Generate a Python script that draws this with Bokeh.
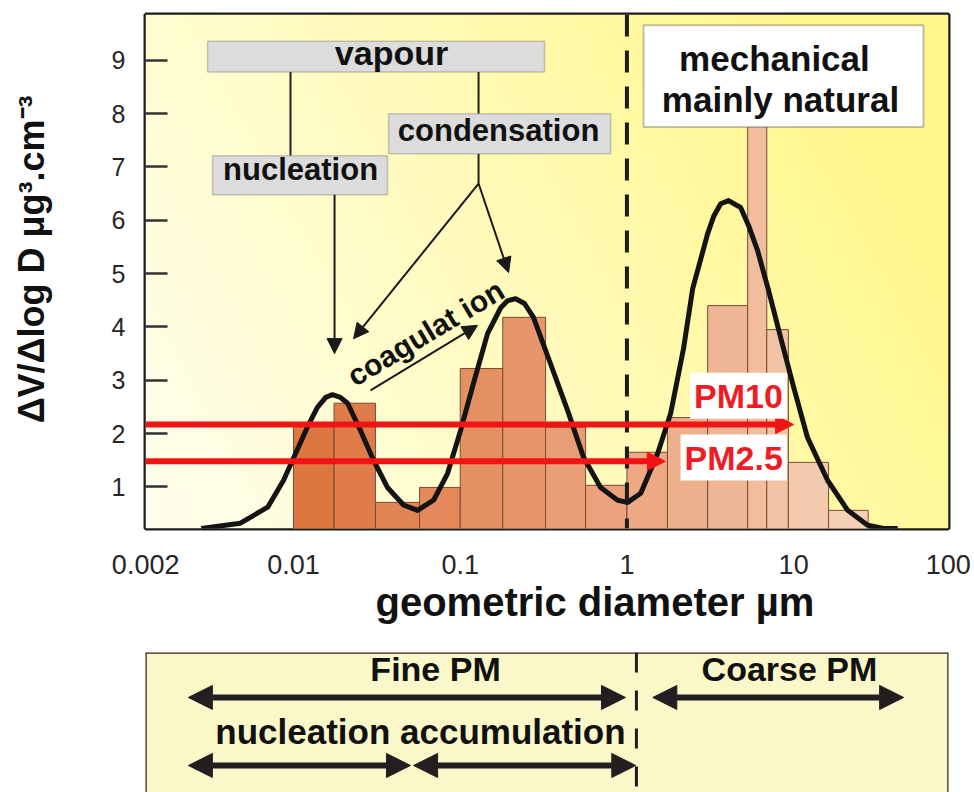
import numpy as np
from bokeh.embed import file_html
from bokeh.layouts import column, row
from bokeh.models import Arrow, BoxAnnotation, FixedTicker, Label, NormalHead, Range1d, Span, Title
from bokeh.plotting import figure
from bokeh.resources import INLINE

FONT = "Liberation Sans"
INK = "#1c1c1c"

# Volume size distribution: histogram bins (geometric diameter, µm) and ΔV/ΔlogD per bin
bin_edges = [0.01, 0.0175, 0.031, 0.057, 0.1, 0.18, 0.325, 0.565, 1.0,
             1.75, 3.05, 5.3, 6.9, 9.3, 16.2, 28.0]
bin_heights = [2.15, 2.57, 0.71, 0.99, 3.22, 4.18, 2.12, 1.03,
               1.65, 2.30, 4.40, 8.0, 3.95, 1.46, 0.56]

# Trimodal distribution curve (nucleation, accumulation, coarse modes)
curve_d = [0.0028, 0.0048, 0.0070, 0.0087, 0.0103, 0.0121, 0.0139, 0.0156, 0.0171,
           0.0191, 0.0211, 0.0252, 0.0302, 0.0366, 0.0457, 0.0554, 0.0692, 0.0839,
           0.1005, 0.120, 0.146, 0.175, 0.192, 0.215, 0.243, 0.275, 0.348, 0.441,
           0.550, 0.695, 0.879, 1.01, 1.21, 1.53, 1.83, 2.19, 2.48, 3.05, 3.31,
           3.65, 4.07, 4.81, 5.37, 6.08, 7.08, 8.36, 10.0, 12.1, 16.0, 21.1, 27.8,
           34.7, 42.1]
curve_v = [0.22, 0.32, 0.62, 1.12, 1.63, 2.12, 2.49, 2.68, 2.73,
           2.68, 2.57, 2.06, 1.50, 0.99, 0.66, 0.56, 0.75, 1.25,
           2.06, 2.94, 3.88, 4.36, 4.49, 4.53, 4.44, 4.18, 3.31, 2.43,
           1.55, 0.99, 0.75, 0.71, 0.88, 1.63, 2.38, 3.61, 4.72, 5.75, 6.07,
           6.31, 6.37, 6.24, 5.90, 5.43, 4.68, 3.80, 2.87, 1.93, 1.12, 0.56, 0.28,
           0.22, 0.22]

# Axes
x_lo, x_hi = 10 ** -2.888, 10 ** 1.929
y_lo, y_hi = 0.22, 9.86
x_tick_values = [x_lo * 1.002, 0.01, 0.1, 1, 10, x_hi * 0.998]
x_tick_labels = ["0.002", "0.01", "0.1", "1", "10", "100"]
y_tick_values = [1, 2, 3, 4, 5, 6, 7, 8, 9]
y_title = "ΔV/Δlog D μg³.cm⁻³"
x_title = "geometric diameter µm"

# PM size cuts drawn as arrows
pm_names = ["PM10", "PM2.5"]
pm_levels = [2.17, 1.48]
pm_cuts = [10.0, 1.7]

# Fine / coarse size ranges (µm)
range_names = ["Fine PM", "Coarse PM", "nucleation", "accumulation"]
range_from = [0.00234, 1.43, 0.00234, 0.0525]
range_to = [0.98, 45.7, 0.0503, 1.13]
fine_coarse_split = 1.14

p = figure(width=914, height=636, x_axis_type="log",
           x_range=Range1d(x_lo, x_hi), y_range=Range1d(y_lo, y_hi),
           output_backend="svg", toolbar_location=None,
           min_border_left=85, min_border_right=26, min_border_top=14, min_border_bottom=108)
p.grid.visible = False
p.outline_line_color = INK
p.outline_line_width = 4
p.border_fill_color = "white"

# pale-to-yellow backdrop
ny, nx = 60, 160
u = np.linspace(0, 1, nx)[None, :]
v = np.linspace(0, 1, ny)[:, None]
t = np.clip(0.85 * u + 0.3 * v, 0, 1)[..., None]
pale = np.array([255, 254, 238])
warm = np.array([255, 247, 140])
rgb = pale * (1 - t) + warm * t
img = np.empty((ny, nx), dtype=np.uint32)
view = img.view(dtype=np.uint8).reshape((ny, nx, 4))
view[..., :3] = np.round(rgb).astype(np.uint8)
view[..., 3] = 255
p.image_rgba(image=[img], x=x_lo, y=y_lo, dw=x_hi - x_lo, dh=y_hi - y_lo)

# histogram bars, shading from orange to peach with size
c0 = np.array([222, 118, 66])
c1 = np.array([246, 208, 182])
n = len(bin_heights)
bar_colors = ["#%02x%02x%02x" % tuple(int(round(c)) for c in c0 + (c1 - c0) * k / (n - 1))
              for k in range(n)]
p.quad(left=bin_edges[:-1], right=bin_edges[1:], bottom=0, top=bin_heights,
       fill_color=bar_colors, line_color="#7a4a32", line_width=1)

p.line(curve_d, curve_v, line_width=5, line_color="#141414", line_join="round")

p.add_layout(Span(location=1, dimension="height", line_color=INK, line_width=4,
                  line_dash="22 14"))

# PM arrows
for name, lvl, cut in zip(pm_names, pm_levels, pm_cuts):
    p.add_layout(Arrow(end=NormalHead(size=18, fill_color="#f01414", line_color="#f01414"),
                       x_start=x_lo, y_start=lvl, x_end=cut, y_end=lvl,
                       line_color="#f01414", line_width=6))
pm_text = dict(text_align="center", text_baseline="middle", text_font=FONT,
               text_font_size="34px", text_font_style="bold", text_color="#ee1c24",
               background_fill_color="white", padding=4)
p.add_layout(Label(x=4.67, y=2.71, text=pm_names[0], **pm_text))
p.add_layout(Label(x=4.37, y=1.55, text=pm_names[1], **pm_text))

# process tree: vapour -> nucleation / condensation
box_style = dict(fill_color="#dcdcdc", fill_alpha=1, line_color="#555555", line_width=1.5)
p.add_layout(BoxAnnotation(left=0.00305, right=0.3206, bottom=8.78, top=9.36, **box_style))
p.add_layout(BoxAnnotation(left=0.00327, right=0.0366, bottom=6.48, top=7.21, **box_style))
p.add_layout(BoxAnnotation(left=0.0372, right=0.798, bottom=7.25, top=8.00, **box_style))
p.add_layout(BoxAnnotation(left=1.259, right=60.1, bottom=7.75, top=9.66,
                           fill_color="white", fill_alpha=1, line_color="#333333", line_width=2))

p.segment(x0=[0.00959, 0.1288, 0.1288], y0=[8.78, 8.78, 7.25],
          x1=[0.00959, 0.1288, 0.1288], y1=[7.21, 8.00, 6.69],
          line_color="#222222", line_width=2)

for xs, ys, xe, ye in [(0.01762, 6.48, 0.01762, 3.50),
                       (0.1288, 6.69, 0.02291, 3.78),
                       (0.1288, 6.69, 0.1950, 5.02),
                       (0.02897, 2.81, 0.1271, 4.03)]:
    p.add_layout(Arrow(end=NormalHead(size=15, fill_color="#1a1a1a", line_color="#1a1a1a"),
                       x_start=xs, y_start=ys, x_end=xe, y_end=ye,
                       line_color="#1a1a1a", line_width=2))

label_style = dict(text_font=FONT, text_font_size="31px", text_font_style="bold",
                   text_color="#111111", text_align="center", text_baseline="alphabetic")
p.add_layout(Label(x=0.0387, y=9.13, text="vapour",
                   **{**label_style, "text_font_size": "34px"}))
p.add_layout(Label(x=0.01102, y=6.95, text="nucleation", **label_style))
p.add_layout(Label(x=0.1698, y=7.68, text="condensation", **label_style))
p.add_layout(Label(x=7.67, y=9.04, text="mechanical",
                   **{**label_style, "text_font_size": "35px"}))
p.add_layout(Label(x=8.34, y=8.27, text="mainly natural",
                   **{**label_style, "text_font_size": "35px"}))
p.add_layout(Label(x=0.0619, y=3.89, text="coagulat ion", angle=0.54,
                   **{**label_style, "text_font_size": "30px", "text_baseline": "middle"}))

# axes
p.xaxis.ticker = FixedTicker(ticks=x_tick_values)
p.xaxis.major_label_overrides = dict(zip(x_tick_values, x_tick_labels))
p.yaxis.ticker = FixedTicker(ticks=y_tick_values)
p.axis.axis_line_color = None
p.axis.minor_tick_line_color = None
p.xaxis.major_tick_line_color = None
p.yaxis.major_tick_in = 22
p.yaxis.major_tick_out = 0
p.yaxis.major_tick_line_width = 2.5
p.yaxis.major_tick_line_color = "#333333"
p.axis.major_label_text_font = FONT
p.axis.major_label_text_color = "#262626"
p.xaxis.major_label_text_font_size = "27px"
p.yaxis.major_label_text_font_size = "25px"
p.axis.major_label_standoff = 20

p.add_layout(Title(text=x_title, align="left", offset=230, standoff=3,
                   text_font=FONT, text_font_size="40px", text_font_style="bold",
                   text_color="#111111"), "below")

# narrow strip at the left carrying the vertical axis title
ylab = figure(width=60, height=636, x_range=Range1d(0, 60), y_range=Range1d(0, 636),
              output_backend="svg", toolbar_location=None,
              min_border_left=0, min_border_right=0, min_border_top=0, min_border_bottom=0)
ylab.axis.visible = False
ylab.grid.visible = False
ylab.outline_line_color = None
ylab.background_fill_color = "white"
ylab.border_fill_color = "white"
ylab.add_layout(Label(x=31, y=333, text=y_title, angle=np.pi / 2,
                      text_align="center", text_baseline="middle", text_font=FONT,
                      text_font_size="36px", text_font_style="bold", text_color="#111111"))

# lower panel: fine / coarse particle ranges
p2 = figure(width=974, height=156, x_axis_type="log", x_range=p.x_range,
            y_range=Range1d(0, 1), output_backend="svg", toolbar_location=None,
            min_border_left=145, min_border_right=26, min_border_top=16, min_border_bottom=0)
p2.axis.visible = False
p2.grid.visible = False
p2.outline_line_color = None
p2.background_fill_color = "#faf7c8"
p2.border_fill_color = "white"
for loc, dim in [(x_lo, "height"), (x_hi, "height"), (1, "width")]:
    p2.add_layout(Span(location=loc, dimension=dim, line_color="#2a2a2a", line_width=2.5))
p2.add_layout(Span(location=fine_coarse_split, dimension="height", line_color=INK,
                   line_width=3, line_dash="20 18"))

rows = [0.679, 0.679, 0.193, 0.193]
for a, b, yy in zip(range_from, range_to, rows):
    p2.add_layout(Arrow(start=NormalHead(size=24, fill_color="#231f20", line_color="#231f20"),
                        end=NormalHead(size=24, fill_color="#231f20", line_color="#231f20"),
                        x_start=a, y_start=yy, x_end=b, y_end=yy,
                        line_color="#231f20", line_width=6))

panel_text = dict(text_font=FONT, text_font_size="34px", text_font_style="bold",
                  text_color="#111111", text_align="center", text_baseline="alphabetic")
p2.add_layout(Label(x=0.0711, y=0.879, text=range_names[0], **panel_text))
p2.add_layout(Label(x=9.44, y=0.879, text=range_names[1], **panel_text))
p2.add_layout(Label(x=0.0577, y=0.436, text=range_names[2] + " " + range_names[3],
                    **{**panel_text, "text_font_size": "35px"}))

layout = column(row(ylab, p), p2)
open("out.html", "w").write(file_html(layout, INLINE))
